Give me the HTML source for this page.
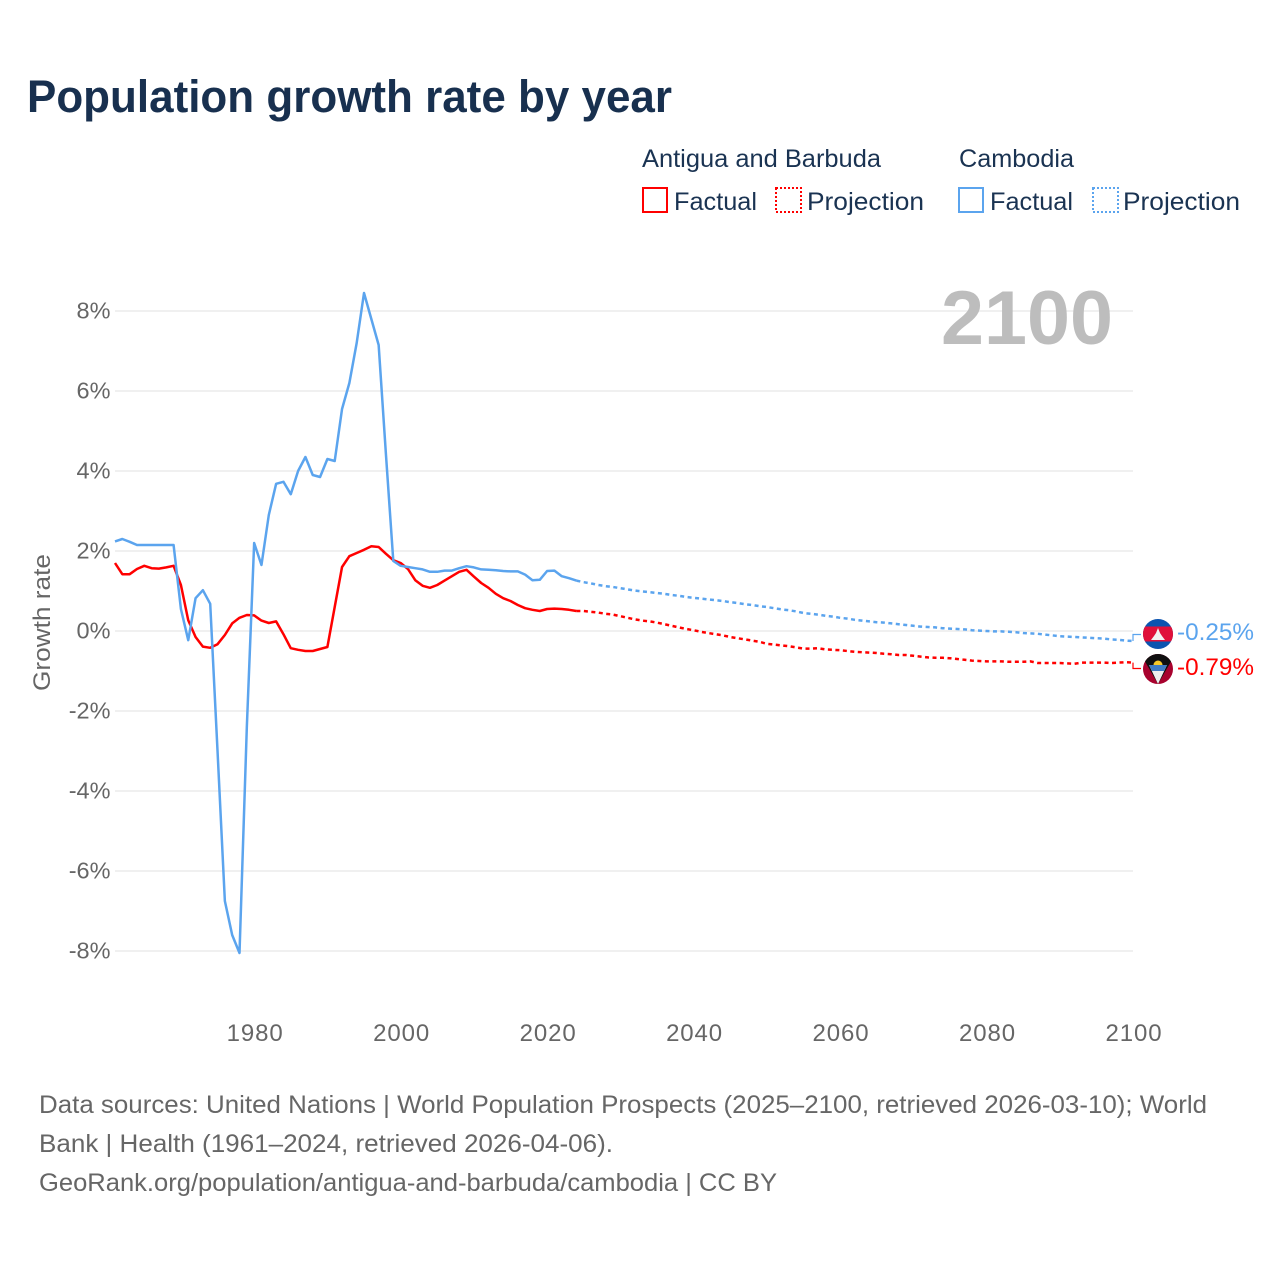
<!DOCTYPE html>
<html lang="en">
<head>
<meta charset="utf-8">
<title>Population growth rate by year</title>
<style>
html,body{margin:0;padding:0;background:#fff;}
svg{display:block;font-family:"Liberation Sans",sans-serif;}
</style>
</head>
<body>
<svg id="chart" width="1280" height="1280" viewBox="0 0 1280 1280" xmlns="http://www.w3.org/2000/svg">
<defs>
<clipPath id="flag-clip-kh"><circle cx="1158" cy="634" r="15"/></clipPath>
<clipPath id="flag-clip-ag"><circle cx="1158" cy="669" r="15"/></clipPath>
</defs>
<rect width="1280" height="1280" fill="#fff"/>
<text x="27" y="112" font-size="45" font-weight="700" fill="#18304f" textLength="645" lengthAdjust="spacingAndGlyphs">Population growth rate by year</text>

<g font-size="25" fill="#1a3352">
<text x="642" y="167" textLength="239" lengthAdjust="spacingAndGlyphs">Antigua and Barbuda</text>
<text x="959" y="167" textLength="115" lengthAdjust="spacingAndGlyphs">Cambodia</text>
<rect x="643" y="188" width="24" height="24" fill="none" stroke="#ff0000" stroke-width="2"/>
<text x="674" y="210" textLength="83" lengthAdjust="spacingAndGlyphs">Factual</text>
<rect x="776" y="188" width="25" height="24" fill="none" stroke="#ff0000" stroke-width="2" stroke-dasharray="2 2"/>
<text x="807" y="210" textLength="117" lengthAdjust="spacingAndGlyphs">Projection</text>
<rect x="959" y="188" width="24" height="24" fill="none" stroke="#5ba4ee" stroke-width="2"/>
<text x="990" y="210" textLength="83" lengthAdjust="spacingAndGlyphs">Factual</text>
<rect x="1093" y="188" width="25" height="24" fill="none" stroke="#5ba4ee" stroke-width="2" stroke-dasharray="2 2"/>
<text x="1123" y="210" textLength="117" lengthAdjust="spacingAndGlyphs">Projection</text>
</g>

<g id="grid"></g>
<g id="y-ticks"></g>
<g id="x-ticks"></g>
<text transform="translate(50,622.5) rotate(-90)" text-anchor="middle" font-size="24" fill="#666" textLength="137" lengthAdjust="spacingAndGlyphs">Growth rate</text>
<text x="941" y="344" font-size="76" font-weight="700" fill="#bdbdbd" textLength="172" lengthAdjust="spacingAndGlyphs">2100</text>
<g id="series"></g>

<g clip-path="url(#flag-clip-kh)">
<rect x="1143" y="619" width="30" height="30" fill="#0b54b0"/>
<rect x="1143" y="626.5" width="30" height="15" fill="#e0103a"/>
<path d="M1151 640 L1154 636 L1156 633 L1158 628 L1160 633 L1162 636 L1165 640 Z" fill="#f2f2f2"/>
</g>
<g clip-path="url(#flag-clip-ag)">
<rect x="1143" y="654" width="30" height="30" fill="#a8022e"/>
<path d="M1143 654 H1173 V658 L1158 684 L1143 658 Z" fill="#101010"/>
<path d="M1149 665 H1167 L1158 684 Z" fill="#eeeeee"/>
<path d="M1149 665 H1167 L1164 671 H1152 Z" fill="#3f7cc4"/>
<path d="M1153.5 665 A4.5 4.5 0 0 1 1162.5 665 Z" fill="#f7c928"/>
</g>

<text id="label-kh" x="1177" y="640" font-size="24" fill="#5ba4ee" textLength="77" lengthAdjust="spacingAndGlyphs"></text>
<text id="label-ag" x="1177" y="675" font-size="24" fill="#ff0000" textLength="77" lengthAdjust="spacingAndGlyphs"></text>

<g font-size="25" fill="#666">
<text x="39" y="1113" textLength="1168" lengthAdjust="spacingAndGlyphs">Data sources: United Nations | World Population Prospects (2025–2100, retrieved 2026-03-10); World</text>
<text x="39" y="1152" textLength="574" lengthAdjust="spacingAndGlyphs">Bank | Health (1961–2024, retrieved 2026-04-06).</text>
<text x="39" y="1191" textLength="738" lengthAdjust="spacingAndGlyphs">GeoRank.org/population/antigua-and-barbuda/cambodia | CC BY</text>
</g>
</svg>
<script>
const yTicks = [8, 6, 4, 2, 0, -2, -4, -6, -8];
const xTicks = [1980, 2000, 2020, 2040, 2060, 2080, 2100];
const factualStart = 1961;
const projectionStart = 2024;
const cambodiaFactual = [2.24,2.3,2.23,2.15,2.15,2.15,2.15,2.15,2.15,0.55,-0.23,0.82,1.02,0.68,-3.0,-6.75,-7.6,-8.05,-2.4,2.2,1.65,2.9,3.68,3.73,3.42,4.0,4.35,3.9,3.85,4.3,4.25,5.55,6.2,7.2,8.45,7.8,7.15,4.4,1.75,1.63,1.6,1.57,1.54,1.48,1.48,1.51,1.51,1.57,1.62,1.59,1.54,1.53,1.52,1.5,1.49,1.49,1.41,1.27,1.28,1.5,1.51,1.37,1.32,1.26];
const antiguaFactual = [1.7,1.42,1.42,1.55,1.63,1.57,1.56,1.59,1.63,1.15,0.27,-0.15,-0.39,-0.42,-0.33,-0.1,0.19,0.33,0.4,0.39,0.26,0.2,0.24,-0.08,-0.43,-0.47,-0.5,-0.5,-0.45,-0.4,0.6,1.6,1.87,1.95,2.03,2.12,2.1,1.93,1.77,1.7,1.55,1.27,1.13,1.08,1.15,1.26,1.37,1.48,1.53,1.36,1.2,1.08,0.93,0.82,0.75,0.65,0.57,0.53,0.5,0.55,0.56,0.55,0.53,0.5];
const cambodiaProjection = [1.26,1.22,1.19,1.15,1.12,1.10,1.07,1.04,1.01,0.99,0.97,0.95,0.93,0.90,0.88,0.85,0.83,0.81,0.79,0.77,0.75,0.72,0.70,0.67,0.65,0.62,0.60,0.57,0.54,0.52,0.49,0.45,0.43,0.41,0.38,0.36,0.33,0.31,0.28,0.26,0.24,0.22,0.21,0.19,0.17,0.15,0.13,0.11,0.10,0.09,0.07,0.06,0.05,0.04,0.02,0.01,0,-0.01,-0.01,-0.02,-0.03,-0.05,-0.06,-0.07,-0.09,-0.11,-0.13,-0.14,-0.15,-0.16,-0.17,-0.18,-0.19,-0.21,-0.22,-0.24,-0.25];
const antiguaProjection = [0.5,0.5,0.48,0.46,0.43,0.41,0.37,0.33,0.29,0.26,0.24,0.21,0.17,0.13,0.09,0.05,0.02,-0.02,-0.05,-0.08,-0.11,-0.15,-0.18,-0.21,-0.24,-0.27,-0.32,-0.34,-0.36,-0.38,-0.41,-0.44,-0.44,-0.43,-0.46,-0.47,-0.48,-0.5,-0.52,-0.53,-0.54,-0.55,-0.57,-0.58,-0.6,-0.6,-0.62,-0.64,-0.66,-0.67,-0.67,-0.68,-0.7,-0.72,-0.74,-0.75,-0.76,-0.76,-0.76,-0.77,-0.77,-0.77,-0.76,-0.8,-0.8,-0.8,-0.8,-0.81,-0.82,-0.79,-0.79,-0.79,-0.79,-0.8,-0.79,-0.78,-0.79];

const NS = 'http://www.w3.org/2000/svg';
const xScale = year => 115 + (year - 1961) * (1133 - 115) / (2100 - 1961);
const yScale = value => 631 - value * 40;
const BLUE = '#5ba4ee';
const RED = '#ff0000';

function make(tag, parent, attrs) {
  const el = document.createElementNS(NS, tag);
  for (const k in attrs) el.setAttribute(k, attrs[k]);
  parent.appendChild(el);
  return el;
}
function linePoints(values, start) {
  return values.map((v, i) => xScale(start + i).toFixed(2) + ',' + yScale(v).toFixed(2)).join(' ');
}

const gridGroup = document.getElementById('grid');
const yGroup = document.getElementById('y-ticks');
const xGroup = document.getElementById('x-ticks');
const seriesGroup = document.getElementById('series');

yTicks.forEach(t => {
  const line = make('line', gridGroup, {x1: 115, x2: 1133, y1: yScale(t), y2: yScale(t), stroke: '#ebebeb', 'stroke-width': 1.5});
  
  
  const label = make('text', yGroup, {x: 110.5, y: yScale(t) + 7.5, 'text-anchor': 'end', 'font-size': 23.5, fill: '#666'});
  
  
  label.textContent = t + '%';
});

xTicks.forEach(t => {
  const label = make('text', xGroup, {x: xScale(t) + 1, y: 1041, 'text-anchor': 'middle', 'font-size': 24, fill: '#666', 'letter-spacing': '0.9'});
  
  
  label.textContent = t;
});

const solidKh = make('polyline', seriesGroup, {points: linePoints(cambodiaFactual, factualStart), fill: 'none', stroke: BLUE, 'stroke-width': 2.5, 'stroke-linejoin': 'round'});


const solidAg = make('polyline', seriesGroup, {points: linePoints(antiguaFactual, factualStart), fill: 'none', stroke: RED, 'stroke-width': 2.5, 'stroke-linejoin': 'round'});


seriesGroup.appendChild(solidKh);
const dashKh = make('polyline', seriesGroup, {points: linePoints(cambodiaProjection, projectionStart), fill: 'none', stroke: BLUE, 'stroke-width': 2.5, 'stroke-dasharray': '4 3.5'});


const dashAg = make('polyline', seriesGroup, {points: linePoints(antiguaProjection, projectionStart), fill: 'none', stroke: RED, 'stroke-width': 2.5, 'stroke-dasharray': '4 3.5'});



const lastKh = cambodiaProjection[cambodiaProjection.length - 1];
const lastAg = antiguaProjection[antiguaProjection.length - 1];
const linkKh = make('polyline', seriesGroup, {points: '1133,' + yScale(lastKh) + ' 1133,634.5 1141,634.5', fill: 'none', stroke: BLUE, 'stroke-width': 1.2});


const linkAg = make('polyline', seriesGroup, {points: '1133,' + yScale(lastAg) + ' 1133,668.5 1141,668.5', fill: 'none', stroke: RED, 'stroke-width': 1.2});



document.getElementById('label-kh').textContent = lastKh.toFixed(2) + '%';
document.getElementById('label-ag').textContent = lastAg.toFixed(2) + '%';
</script>
</body>
</html>
